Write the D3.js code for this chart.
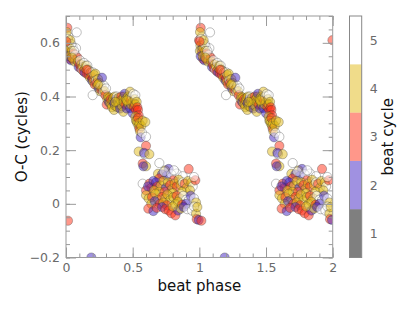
<!DOCTYPE html>
<html><head><meta charset="utf-8">
<script src="https://cdn.jsdelivr.net/npm/d3@7"></script>
<style>body{margin:0;background:#fff}svg{display:block}</style>
</head><body><svg id="c" width="415" height="310"></svg>
<script>
// beat phase (0..1), O-C (cycles), beat cycle
const phaseA = [0.01,0.018,0.023,0.08,0.05,0.075,0.035,0.028,0.005,0.012,0.008,0.015,0.02,0.004,0.01,0.03,0.04,0.045,0.055,0.06,0.025,0.038,0.05,0.065,0.07,0.085,0.06,0.032,0.002,0.045];
const ocA    = [0.656,0.623,0.60,0.639,0.585,0.58,0.56,0.54,0.64,0.615,0.59,0.575,0.565,0.57,0.55,0.58,0.595,0.57,0.56,0.548,0.55,0.535,0.54,0.53,0.555,0.545,0.57,0.61,0.605,0.545];
const cycA   = [3,5,4,5,5,5,3,3,4,5,4,2,3,4,2,4,5,4,3,4,4,2,3,4,5,3,5,4,3,4];

const phaseB = [0.09,0.095,0.1,0.105,0.11,0.115,0.12,0.125,0.13,0.135,0.14,0.145,0.15,0.155,0.16,0.165,0.17,0.175,0.18,0.185,0.19,0.195,0.2,0.2,0.205,0.21,0.215,0.22,0.225,0.23,0.235,0.24,0.245,0.25,0.255,0.26,0.265,0.27,0.275,0.28,0.285,0.29,0.2,0.295,0.3,0.305,0.31,0.155,0.24];
const ocB    = [0.53,0.51,0.52,0.535,0.505,0.52,0.5,0.51,0.495,0.525,0.49,0.505,0.515,0.485,0.515,0.5,0.48,0.495,0.47,0.49,0.475,0.46,0.467,0.49,0.455,0.48,0.445,0.485,0.46,0.45,0.44,0.465,0.43,0.45,0.42,0.44,0.425,0.47,0.43,0.415,0.44,0.42,0.405,0.405,0.43,0.37,0.39,0.5,0.445];
const cycB   = [4,2,3,5,3,4,5,4,3,5,2,4,4,3,5,4,3,5,4,4,3,2,3,5,4,4,3,4,5,3,4,4,2,4,4,5,3,2,4,5,5,4,5,3,5,3,4,3,4];

const phaseC = [0.315,0.32,0.325,0.33,0.335,0.34,0.345,0.35,0.355,0.36,0.36,0.365,0.37,0.375,0.38,0.385,0.39,0.395,0.4,0.405,0.41,0.415,0.42,0.425,0.43,0.43,0.435,0.44,0.445,0.45,0.455,0.46,0.465,0.47,0.475,0.48,0.48,0.485,0.49,0.495,0.5,0.5,0.505,0.51,0.515,0.52,0.52,0.525,0.53,0.535,0.54,0.545,0.37,0.455];
const ocC    = [0.4,0.38,0.395,0.375,0.39,0.37,0.36,0.385,0.395,0.35,0.375,0.4,0.365,0.39,0.4,0.36,0.38,0.395,0.37,0.355,0.385,0.4,0.365,0.39,0.38,0.343,0.4,0.41,0.37,0.39,0.355,0.38,0.4,0.37,0.395,0.418,0.357,0.385,0.37,0.4,0.338,0.38,0.41,0.36,0.39,0.405,0.37,0.35,0.38,0.36,0.35,0.33,0.38,0.385];
const cycC   = [4,2,4,4,3,4,4,4,4,4,2,4,4,2,5,4,4,4,4,2,4,3,4,4,4,4,4,2,3,4,2,4,4,4,4,4,2,3,4,5,2,4,5,3,4,5,4,3,4,3,3,3,4,4];

const phaseD = [0.52,0.525,0.53,0.535,0.54,0.545,0.55,0.55,0.555,0.56,0.565,0.57,0.575,0.595,0.6,0.6,0.545,0.59,0.585,0.625,0.575,0.6,0.58,0.7];
const ocD    = [0.325,0.31,0.31,0.3,0.32,0.29,0.28,0.3,0.27,0.248,0.29,0.265,0.31,0.305,0.25,0.216,0.195,0.185,0.19,0.185,0.15,0.14,0.14,0.152];
const cycD   = [4,4,4,4,3,4,3,4,4,2,4,5,4,4,5,3,4,5,2,4,3,4,2,5];

const phaseE = [0.69,0.745,0.77,0.83,0.875,0.92,0.72,0.755,0.7,0.735,0.79,0.805,0.81,
  0.575,0.625,0.64,0.655,0.675,0.685,0.71,0.73,0.75,0.765,0.78,0.795,0.815,0.83,0.845,0.86,0.875,0.89,0.905,0.915,0.94,0.95,0.97,0.96,0.6,0.615,0.66,0.7,0.74,0.8,0.87,0.93,
  0.6,0.62,0.645,0.67,0.69,0.72,0.745,0.76,0.78,0.805,0.83,0.855,0.88,0.9,0.92,0.935,0.96,0.975,0.64,0.665,0.705,0.73,0.755,0.82,0.84,0.87,0.9,
  0.617,0.655,0.68,0.72,0.745,0.77,0.79,0.82,0.84,0.86,0.882,0.91,0.945,0.96,0.975,0.98,0.995,0.985,0.8,
  0.015,0.19,0.998];
const ocE    = [0.112,0.125,0.13,0.113,0.103,0.13,0.11,0.105,0.095,0.12,0.11,0.088,0.125,
  0.075,0.075,0.06,0.085,0.08,0.065,0.068,0.085,0.06,0.08,0.07,0.055,0.075,0.065,0.09,0.07,0.08,0.075,0.06,0.085,0.08,0.065,0.088,0.1,0.05,0.065,0.05,0.045,0.045,0.04,0.045,0.05,
  0.032,0.02,0.025,0.038,0.015,0.026,0.02,0.035,0.013,0.025,0.03,0.02,0.03,0.015,0.013,0.03,0.02,0.005,0.0,0.01,0.0,0.005,-0.005,0.0,0.008,-0.003,0.0,
  -0.018,-0.027,-0.015,-0.012,-0.02,-0.025,-0.035,-0.043,-0.025,-0.018,-0.012,-0.02,-0.025,-0.01,-0.037,-0.057,-0.06,-0.012,-0.01,
  -0.063,-0.2,0.61];
const cycE   = [4,4,2,5,5,3,2,2,3,5,5,3,5,
  5,3,3,2,2,3,4,4,2,4,3,4,4,3,4,4,5,3,4,4,4,5,3,5,3,2,4,4,3,4,4,4,
  4,4,3,4,4,3,4,4,4,4,3,4,5,5,5,2,5,4,4,2,3,4,3,4,4,3,2,
  3,2,3,2,3,3,3,3,2,4,2,5,5,5,4,3,2,4,4,
  3,2,3];

const xTicks = [0,0.5,1,1.5,2];
const yTicks = [-0.2,0,0.2,0.4,0.6];
const cbTicks = [1,2,3,4,5];
const cycleColors = ["#000000","#4123c3","#ff2f15","#e1b915","#ffffff"];

const phase = [].concat(phaseA,phaseB,phaseC,phaseD,phaseE);
const oc = [].concat(ocA,ocB,ocC,ocD,ocE);
const cyc = [].concat(cycA,cycB,cycC,cycD,cycE);
const pts = [];
for (let k = 0; k < 2; k++) phase.forEach((p,i)=>pts.push({x:p+k, y:oc[i], c:cyc[i]}));

const svg = d3.select("#c");
const L=66, R=332.7, T=16, B=257.5;
const x = d3.scaleLinear([0,2],[L,R]);
const y = d3.scaleLinear([-0.2,0.7],[B,T]);
const color = d3.scaleOrdinal([1,2,3,4,5], cycleColors);

svg.append("clipPath").attr("id","clip").append("rect")
  .attr("x",L).attr("y",T).attr("width",R-L).attr("height",B-T);

svg.append("g").attr("clip-path","url(#clip)").selectAll("circle").data(pts).join("circle")
  .attr("cx",d=>x(d.x)).attr("cy",d=>y(d.y)).attr("r",4.6)
  .attr("fill",d=>color(d.c)).attr("fill-opacity",0.5)
  .attr("stroke","#333").attr("stroke-opacity",0.45).attr("stroke-width",0.7);

const tickCol = "#9a9a9a";
function styleAxis(g){ g.select(".domain").remove(); g.selectAll("line").attr("stroke",tickCol); g.selectAll("text").attr("fill","#6a6a6a").style("font-family","DejaVu Sans").style("font-size","12.5px"); }
const xMinor = d3.range(0,2.0001,0.1);
const yMinor = d3.range(-0.2,0.7001,0.05);

svg.append("g").attr("transform",`translate(0,${B})`).call(d3.axisBottom(x).tickValues(xMinor).tickSize(-4).tickFormat("")).call(styleAxis);
svg.append("g").attr("transform",`translate(0,${T})`).call(d3.axisTop(x).tickValues(xMinor).tickSize(-4).tickFormat("")).call(styleAxis);
svg.append("g").attr("transform",`translate(${L},0)`).call(d3.axisLeft(y).tickValues(yMinor).tickSize(-4).tickFormat("")).call(styleAxis);
svg.append("g").attr("transform",`translate(${R},0)`).call(d3.axisRight(y).tickValues(yMinor).tickSize(-4).tickFormat("")).call(styleAxis);

svg.append("g").attr("transform",`translate(0,${B})`).call(d3.axisBottom(x).tickValues(xTicks).tickSize(-10).tickPadding(6).tickFormat(d3.format("~g"))).call(styleAxis);
svg.append("g").attr("transform",`translate(0,${T})`).call(d3.axisTop(x).tickValues(xTicks).tickSize(-10).tickFormat("")).call(styleAxis);
svg.append("g").attr("transform",`translate(${L},0)`).call(d3.axisLeft(y).tickValues(yTicks).tickSize(-10).tickPadding(6).tickFormat(d3.format("~g"))).call(styleAxis);
svg.append("g").attr("transform",`translate(${R},0)`).call(d3.axisRight(y).tickValues(yTicks).tickSize(-10).tickFormat("")).call(styleAxis);

svg.append("rect").attr("x",L).attr("y",T).attr("width",R-L).attr("height",B-T)
  .attr("fill","none").attr("stroke",tickCol).attr("stroke-width",1);

svg.append("text").attr("x",(L+R)/2).attr("y",291).attr("text-anchor","middle")
  .style("font-family","DejaVu Sans").style("font-size","15px").attr("fill","#111").text("beat phase");
svg.append("text").attr("transform",`translate(27,${(T+B)/2}) rotate(-90)`).attr("text-anchor","middle")
  .style("font-family","DejaVu Sans").style("font-size","15px").attr("fill","#111").text("O-C (cycles)");

// colorbar
const cbX = 349.5, cbW = 12.2;
const cy = d3.scaleLinear([0.5,5.5],[B,T]);
svg.append("g").selectAll("rect").data(cbTicks).join("rect")
  .attr("x",cbX).attr("width",cbW).attr("y",d=>cy(d+0.5)).attr("height",d=>cy(d-0.5)-cy(d+0.5))
  .attr("fill",d=>color(d)).attr("fill-opacity",0.5);
svg.append("rect").attr("x",cbX).attr("y",T).attr("width",cbW).attr("height",B-T)
  .attr("fill","none").attr("stroke","#888").attr("stroke-width",1);
svg.append("g").attr("transform",`translate(${cbX+cbW},0)`)
  .call(d3.axisRight(cy).tickValues(cbTicks).tickSize(0).tickPadding(8).tickFormat(d3.format("d"))).call(styleAxis);
svg.append("text").attr("transform",`translate(393,${(T+B)/2}) rotate(-90)`).attr("text-anchor","middle")
  .style("font-family","DejaVu Sans").style("font-size","15px").attr("fill","#111").text("beat cycle");
</script></body></html>
